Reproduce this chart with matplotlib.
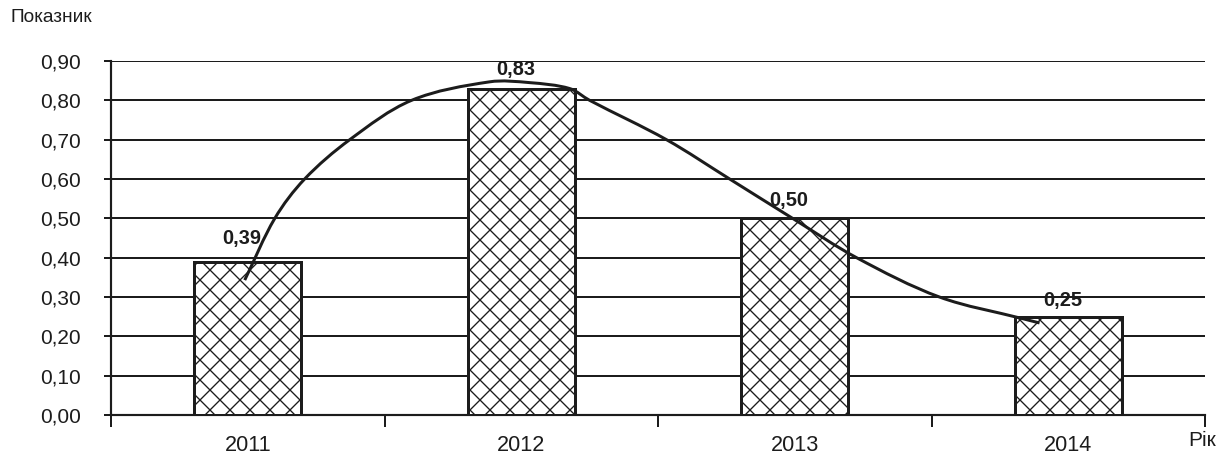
import numpy as np
import matplotlib
matplotlib.use("Agg")
import matplotlib.pyplot as plt
from matplotlib.path import Path
from matplotlib.patches import PathPatch

plt.rcParams['font.family'] = ['Liberation Sans', 'DejaVu Sans']
plt.rcParams['hatch.linewidth'] = 0.8
plt.rcParams['hatch.color'] = '#1a1a1a'

# дані
years = ['2011', '2012', '2013', '2014']
values = [0.39, 0.83, 0.50, 0.25]
value_labels = ['0,39', '0,83', '0,50', '0,25']
y_ticks = [0.0, 0.1, 0.2, 0.3, 0.4, 0.5, 0.6, 0.7, 0.8, 0.9]

# опорні точки згладженої лінії тренду (позиція по осі категорій, значення)
trend_x = [-0.011, 0.099, 0.208, 0.373, 0.599, 0.884, 1.031, 1.177, 1.250,
           1.531, 1.762, 1.992, 2.226, 2.529, 2.833, 2.895]
trend_y = [0.343, 0.500, 0.600, 0.700, 0.800, 0.847, 0.845, 0.830, 0.800,
           0.700, 0.600, 0.500, 0.400, 0.300, 0.245, 0.234]


def smooth_path(xs, ys, sx=273.6, sy=393.3):
    # крива Безьє через точки, параметризація за довжиною хорди
    p = np.column_stack([np.asarray(xs) * sx, np.asarray(ys) * sy])
    d = np.hypot(*np.diff(p, axis=0).T)
    t = np.concatenate([[0], np.cumsum(d)])
    n = len(p)
    tang = np.zeros_like(p)
    tang[0] = (p[1] - p[0]) / (t[1] - t[0])
    tang[-1] = (p[-1] - p[-2]) / (t[-1] - t[-2])
    for i in range(1, n - 1):
        tang[i] = (p[i + 1] - p[i - 1]) / (t[i + 1] - t[i - 1])
    verts = [p[0]]
    codes = [Path.MOVETO]
    for i in range(n - 1):
        h = t[i + 1] - t[i]
        verts += [p[i] + tang[i] * h / 3, p[i + 1] - tang[i + 1] * h / 3, p[i + 1]]
        codes += [Path.CURVE4] * 3
    verts = np.array(verts) / [sx, sy]
    return Path(verts, codes)


ink = '#1c1c1c'
fig = plt.figure(figsize=(10.2, 455 / 120), dpi=120)
ax = fig.add_axes([111 / 1224, 1 - 415 / 455, (1205 - 111) / 1224, (415 - 61) / 455])

x = np.arange(len(years))
ax.bar(x, values, width=0.39, color='white', edgecolor=ink, linewidth=1.8,
       hatch='xx', zorder=3)

offsets = [8, 6, 5, 4]
for xi, v, lab, off in zip(x, values, value_labels, offsets):
    ax.annotate(lab, (xi, v), xytext=(-3.5, off), textcoords='offset points',
                ha='center', va='bottom', fontsize=12, fontweight='bold',
                color=ink, zorder=5)

ax.add_patch(PathPatch(smooth_path(trend_x, trend_y), facecolor='none',
                       edgecolor=ink, linewidth=1.8, zorder=4, capstyle='butt'))

# сітка та осі
ax.set_xlim(-0.5, 3.5)
ax.set_ylim(0, 0.9)
ax.set_yticks(y_ticks)
ax.set_yticklabels([f"{t:.2f}".replace('.', ',') for t in y_ticks])
ax.yaxis.grid(True, color=ink, linewidth=1.2, zorder=0)
ax.set_axisbelow(True)

ax.set_xticks(x)
ax.set_xticklabels(years)
ax.set_xticks([-0.5, 0.5, 1.5, 2.5, 3.5], minor=True)
ax.tick_params(axis='x', which='major', length=0, pad=12, labelsize=13,
               colors=ink)
ax.tick_params(axis='x', which='minor', length=7, width=1.2, color=ink,
               direction='out')
ax.tick_params(axis='y', length=4, width=1.2, pad=14, labelsize=12.5,
               colors=ink, direction='out')

for side in ['top', 'right']:
    ax.spines[side].set_visible(False)
for side in ['left', 'bottom']:
    ax.spines[side].set_color(ink)
    ax.spines[side].set_linewidth(1.3)

fig.text(10 / 1224, 1 - 18 / 455, 'Показник', ha='left', va='center',
         fontsize=11.5, color=ink)
fig.text(1188 / 1224, 1 - 440 / 455, 'Рік', ha='left', va='center',
         fontsize=12.5, color=ink)

fig.savefig('out.png', dpi=120)
